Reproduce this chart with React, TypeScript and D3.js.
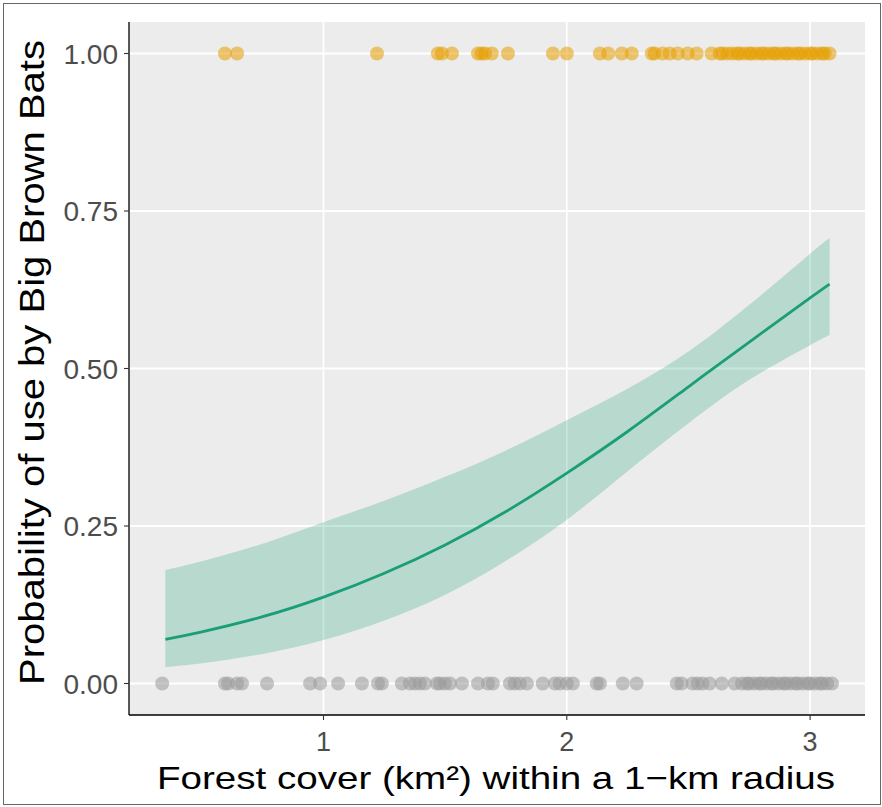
import React from "react";
import * as d3 from "d3";

// fitted curve
const curveX = [0.35, 0.5, 0.75, 1.0, 1.25, 1.5, 1.75, 2.0, 2.25, 2.5, 2.75, 3.0, 3.08];
const curveFit = [0.07, 0.082, 0.106, 0.137, 0.175, 0.22, 0.273, 0.334, 0.4, 0.471, 0.542, 0.612, 0.634];
const curveLow = [0.026, 0.032, 0.047, 0.069, 0.1, 0.141, 0.195, 0.26, 0.337, 0.413, 0.482, 0.537, 0.553];
const curveHigh = [0.18, 0.194, 0.222, 0.256, 0.29, 0.328, 0.37, 0.418, 0.468, 0.527, 0.601, 0.682, 0.707];

// observed sites (used = 1)
const usedX = [
  0.595, 0.645, 1.22, 1.47, 1.487, 1.528, 1.635, 1.65, 1.664, 1.692, 1.758, 1.943, 2.0,
  2.136, 2.17, 2.226, 2.267, 2.349, 2.361, 2.394, 2.423, 2.456, 2.497, 2.534, 2.595, 2.628,
  2.64, 2.66, 2.68, 2.7, 2.71, 2.73, 2.75, 2.76, 2.78, 2.8, 2.81, 2.83, 2.85, 2.86, 2.88,
  2.9, 2.91, 2.93, 2.95, 2.96, 2.98, 3.0, 3.01, 3.03, 3.05, 3.06, 3.08,
];
// observed sites (not used = 0)
const unusedX = [
  0.337, 0.595, 0.608, 0.645, 0.665, 0.768, 0.945, 0.986, 1.06, 1.158, 1.224, 1.24, 1.322,
  1.355, 1.376, 1.396, 1.417, 1.466, 1.478, 1.499, 1.52, 1.569, 1.635, 1.676, 1.696, 1.766,
  1.786, 1.807, 1.836, 1.901, 1.951, 1.971, 2.0, 2.025, 2.123, 2.136, 2.23, 2.287, 2.452,
  2.472, 2.517, 2.538, 2.558, 2.587, 2.637, 2.69, 2.72, 2.74, 2.75, 2.77, 2.79, 2.8, 2.82,
  2.84, 2.85, 2.87, 2.89, 2.9, 2.92, 2.94, 2.95, 2.97, 2.99, 3.0, 3.02, 3.04, 3.05, 3.07, 3.09,
];

const xTicks = [1, 2, 3];
const yTicks = [0, 0.25, 0.5, 0.75, 1];

const W = 882, H = 807;
const panel = { left: 129, right: 865, top: 22, bottom: 715 };
const font = "'Liberation Sans', Arial, sans-serif";

export default function App() {
  const x = d3.scaleLinear().domain([0.2006, 3.2256]).range([panel.left, panel.right]);
  const y = d3.scaleLinear().domain([-0.05, 1.05]).range([panel.bottom, panel.top]);

  const idx = d3.range(curveX.length);
  const ribbon = d3.area<number>()
    .x(i => x(curveX[i]))
    .y0(i => y(curveLow[i]))
    .y1(i => y(curveHigh[i]))
    .curve(d3.curveNatural)(idx);
  const line = d3.line<number>()
    .x(i => x(curveX[i]))
    .y(i => y(curveFit[i]))
    .curve(d3.curveNatural)(idx);

  return (
    <svg width={W} height={H} style={{ position: "absolute", left: 0, top: 0, display: "block" }}>
      <rect x={0} y={0} width={W} height={H} fill="#fff" />
      <rect x={3.5} y={3.5} width={W - 5} height={H - 6} fill="none" stroke="#666" strokeWidth={1} />

      {/* panel */}
      <rect x={panel.left} y={panel.top} width={panel.right - panel.left} height={panel.bottom - panel.top} fill="#EBECEB" />
      {yTicks.map(t => (
        <line key={"gy" + t} x1={panel.left} x2={panel.right} y1={y(t)} y2={y(t)} stroke="#fff" strokeWidth={1.8} />
      ))}
      {xTicks.map(t => (
        <line key={"gx" + t} x1={x(t)} x2={x(t)} y1={panel.top} y2={panel.bottom} stroke="#fff" strokeWidth={1.8} />
      ))}

      {/* points */}
      {unusedX.map((v, i) => (
        <circle key={"u" + i} cx={x(v)} cy={y(0)} r={7} fill="#999999" fillOpacity={0.55} />
      ))}
      {usedX.map((v, i) => (
        <circle key={"p" + i} cx={x(v)} cy={y(1)} r={7} fill="#E69F00" fillOpacity={0.55} />
      ))}

      {/* fit */}
      <path d={ribbon ?? ""} fill="#1B9E77" fillOpacity={0.25} />
      <path d={line ?? ""} fill="none" stroke="#1B9E77" strokeWidth={2.8} />

      {/* axes */}
      <line x1={panel.left} x2={panel.left} y1={panel.top} y2={panel.bottom} stroke="#000" strokeWidth={1.3} />
      <line x1={panel.left} x2={panel.right} y1={panel.bottom} y2={panel.bottom} stroke="#000" strokeWidth={1.3} />
      {yTicks.map(t => (
        <g key={"ty" + t}>
          <line x1={panel.left - 5} x2={panel.left} y1={y(t)} y2={y(t)} stroke="#333" strokeWidth={1.1} />
          <text x={panel.left - 11} y={y(t)} dy="0.36em" textAnchor="end" fontFamily={font} fontSize={28} fill="#4D4D4D">
            {d3.format(".2f")(t)}
          </text>
        </g>
      ))}
      {xTicks.map(t => (
        <g key={"tx" + t}>
          <line x1={x(t)} x2={x(t)} y1={panel.bottom} y2={panel.bottom + 5} stroke="#333" strokeWidth={1.1} />
          <text x={x(t)} y={panel.bottom + 36} textAnchor="middle" fontFamily={font} fontSize={27} fill="#4D4D4D">
            {t}
          </text>
        </g>
      ))}

      {/* titles */}
      <text x={(panel.left + panel.right) / 2 - 1} y={789} textAnchor="middle" fontFamily={font} fontSize={32}
        fill="#000" textLength={678} lengthAdjust="spacingAndGlyphs">
        Forest cover (km²) within a 1−km radius
      </text>
      <text transform={`translate(44, ${(panel.top + panel.bottom) / 2 - 6}) rotate(-90)`} textAnchor="middle"
        fontFamily={font} fontSize={35} fill="#000" textLength={645} lengthAdjust="spacingAndGlyphs">
        Probability of use by Big Brown Bats
      </text>
    </svg>
  );
}
